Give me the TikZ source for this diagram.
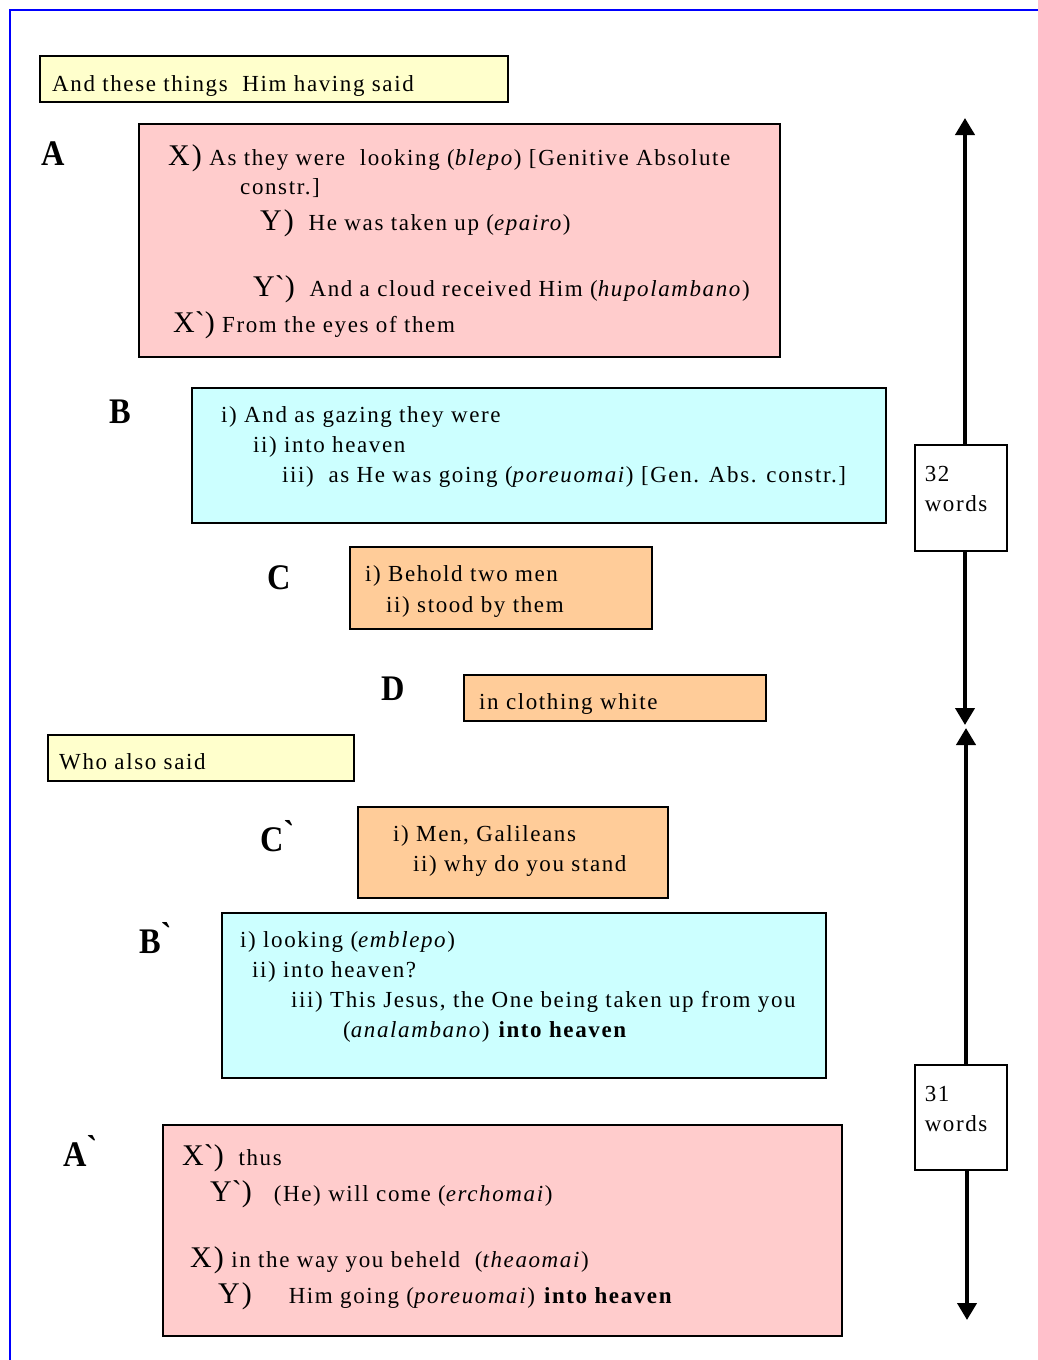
\documentclass[tikz,border=0pt]{standalone}
\usepackage{fontspec}
\usepackage{graphicx}
\setmainfont{Liberation Serif}[LetterSpace=7]
\usetikzlibrary{positioning,arrows.meta}

\definecolor{pinkbox}{HTML}{FFCCCC}
\definecolor{cyanbox}{HTML}{CCFFFF}
\definecolor{orangebox}{HTML}{FFCC99}
\definecolor{yellowbox}{HTML}{FFFFCC}

\newcommand{\ltr}[1]{{\fontsize{30}{30}\selectfont #1}}
\newcommand{\prm}{\textasciigrave}

\tikzset{
  box/.style={draw=black,line width=1.5pt,anchor=north west,inner sep=0pt},
  line/.style={anchor=base west,inner sep=0pt,font=\fontsize{23}{26}\selectfont},
  lbl/.style={anchor=base west,inner sep=0pt,font=\fontsize{36}{36}\selectfont\bfseries},
  wbox/.style={draw=black,line width=1.5pt,anchor=north west,fill=white,
    inner xsep=10pt,inner ysep=0pt,font=\fontsize{23}{30}\selectfont},
  arr/.style={-{Triangle[width=19pt,length=17pt]},line width=4pt}
}

\begin{document}
\begin{tikzpicture}[x=1pt,y=-1pt]
                \useasboundingbox (0,0) rectangle (1038,1360);
                \draw[blue,line width=1.5pt] (1038,10) -- (10,10) -- (10,1360);
                % opening line
                \node[box,fill=yellowbox,minimum width=468pt,minimum height=46pt] (said1) at (39,55) {};
                \node[line] at (52,91) {And these things\ \ Him having said};
                % A
                \node[lbl] (la) at (41,165) {\scalebox{0.9}[1]{A}};
                \node[box,fill=pinkbox,minimum width=641pt,minimum height=233pt] (A) at (138,123) {};
                \node[line] at (168,165) {\ltr{X)}\ As they were\ \ looking (\textit{blepo}) [Genitive Absolute};
                \node[line] at (240,194) {constr.]};
                \node[line] at (260,230) {\ltr{Y)}\ \ He was taken up (\textit{epairo})};
                \node[line] at (253,296) {\ltr{Y\prm)}\ \ And a cloud received Him (\textit{hupolambano})};
                \node[line] at (173,332) {\ltr{X\prm)} From the eyes of them};
                % B
                \node[lbl] (lb) at (109,423) {\scalebox{0.9}[1]{B}};
                \node[box,fill=cyanbox,minimum width=694pt,minimum height=135pt] (B) at (191,387) {};
                \node[line] at (221,422) {i) And as gazing they were};
                \node[line] at (253,452) {ii) into heaven};
                \node[line] at (282,482) {iii)\ \ as He was going (\textit{poreuomai}) [Gen. Abs. constr.]};
                % C
                \node[lbl] (lc) at (267,589) {\scalebox{0.9}[1]{C}};
                \node[box,fill=orangebox,minimum width=302pt,minimum height=82pt] (C) at (349,546) {};
                \node[line] at (365,581) {i) Behold two men};
                \node[line] at (386,612) {ii) stood by them};
                % D
                \node[lbl] (ld) at (381,700) {\scalebox{0.9}[1]{D}};
                \node[box,fill=orangebox,minimum width=302pt,minimum height=46pt] (D) at (463,674) {};
                \node[line] at (479,709) {in clothing white};
                % second speech
                \node[box,fill=yellowbox,minimum width=306pt,minimum height=46pt] (said2) at (47,734) {};
                \node[line] at (59,769) {Who also said};
                % C`
                \node[lbl] (lc2) at (260,851) {\scalebox{0.9}[1]{C\raisebox{6pt}{\prm}}};
                \node[box,fill=orangebox,minimum width=310pt,minimum height=91pt] (C2) at (357,806) {};
                \node[line] at (393,841) {i) Men, Galileans};
                \node[line] at (413,871) {ii) why do you stand};
                % B`
                \node[lbl] (lb2) at (139,953) {\scalebox{0.9}[1]{B\raisebox{6pt}{\prm}}};
                \node[box,fill=cyanbox,minimum width=604pt,minimum height=165pt] (B2) at (221,912) {};
                \node[line] at (240,947) {i) looking (\textit{emblepo})};
                \node[line] at (252,977) {ii) into heaven?};
                \node[line] at (291,1007) {iii) This Jesus, the One being taken up from you};
                \node[line] at (343,1037) {(\textit{analambano}) \textbf{into heaven}};
                % A`
                \node[lbl] (la2) at (63,1166) {\scalebox{0.9}[1]{A\raisebox{6pt}{\prm}}};
                \node[box,fill=pinkbox,minimum width=679pt,minimum height=211pt] (A2) at (162,1124) {};
                \node[line] at (182,1165) {\ltr{X\prm)}\ \ thus};
                \node[line] at (210,1201) {\ltr{Y\prm)}\ \ \ (He) will come (\textit{erchomai})};
                \node[line] at (190,1267) {\ltr{X)} in the way you beheld\ \ (\textit{theaomai})};
                \node[line] at (218,1303) {\ltr{Y)}\ \ \ \ \ Him going (\textit{poreuomai}) \textbf{into heaven}};
                % word counts
                \coordinate (top32) at (965,118);
                \coordinate (bot32) at (965,725);
                \coordinate (top31) at (966,728);
                \coordinate (bot31) at (967,1320);
                \node[wbox] (w32) at (914,444) {\parbox[t][106pt][t]{72pt}{\vspace*{22pt}32\\words}};
                \node[wbox] (w31) at (914,1064) {\parbox[t][105pt][t]{72pt}{\vspace*{22pt}31\\words}};
                \draw[arr] (w32.north -| top32) -- (top32);
                \draw[arr] (w32.south -| bot32) -- (bot32);
                \draw[arr] (w31.north -| top31) -- (top31);
                \draw[arr] (w31.south -| bot31) -- (bot31);
            \end{tikzpicture}
\end{document}
